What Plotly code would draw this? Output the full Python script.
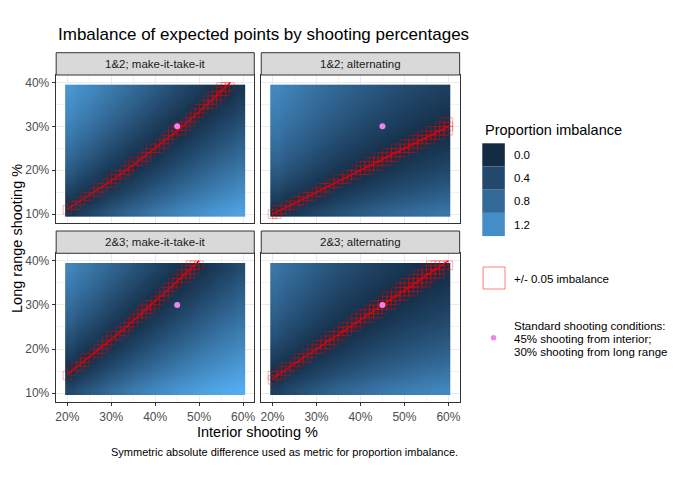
import plotly.graph_objects as go
from plotly.colors import sample_colorscale

# raster bins (shooting %, bin edges) for the imbalance surface
x_edges = [19.5, 22.5, 27.5, 32.5, 37.5, 42.5, 47.5, 52.5, 57.5, 60.5]
y_edges = [9.5, 12, 14.5, 17, 19.5, 22, 24.5, 27, 29.5, 32, 34.5, 37, 39.5]

# proportion imbalance, one row per long range bin (bottom to top)
imb_12_mitti = [
    [0.10, 0.32, 0.56, 0.76, 0.94, 1.09, 1.22, 1.34, 1.43],
    [0.14, 0.09, 0.34, 0.55, 0.74, 0.91, 1.06, 1.20, 1.30],
    [0.34, 0.12, 0.14, 0.36, 0.56, 0.75, 0.91, 1.06, 1.18],
    [0.51, 0.29, 0.04, 0.19, 0.40, 0.59, 0.77, 0.93, 1.05],
    [0.65, 0.44, 0.20, 0.03, 0.24, 0.44, 0.63, 0.80, 0.93],
    [0.78, 0.58, 0.34, 0.12, 0.10, 0.30, 0.49, 0.67, 0.82],
    [0.89, 0.70, 0.47, 0.25, 0.04, 0.17, 0.36, 0.55, 0.70],
    [0.99, 0.81, 0.59, 0.38, 0.17, 0.04, 0.24, 0.43, 0.59],
    [1.08, 0.91, 0.70, 0.49, 0.29, 0.08, 0.12, 0.32, 0.47],
    [1.16, 1.00, 0.80, 0.60, 0.40, 0.20, 0.00, 0.20, 0.36],
    [1.23, 1.08, 0.89, 0.70, 0.50, 0.31, 0.11, 0.09, 0.26],
    [1.29, 1.15, 0.97, 0.79, 0.60, 0.41, 0.21, 0.01, 0.15],
]
imb_12_alt = [
    [0.02, 0.15, 0.33, 0.48, 0.60, 0.71, 0.80, 0.88, 0.93],
    [0.23, 0.06, 0.12, 0.28, 0.41, 0.52, 0.61, 0.70, 0.76],
    [0.40, 0.23, 0.05, 0.11, 0.24, 0.35, 0.45, 0.54, 0.61],
    [0.54, 0.37, 0.20, 0.04, 0.09, 0.21, 0.31, 0.40, 0.47],
    [0.66, 0.50, 0.32, 0.17, 0.04, 0.08, 0.19, 0.28, 0.35],
    [0.76, 0.60, 0.43, 0.28, 0.15, 0.03, 0.07, 0.17, 0.24],
    [0.84, 0.69, 0.53, 0.38, 0.25, 0.13, 0.03, 0.07, 0.14],
    [0.92, 0.77, 0.61, 0.47, 0.34, 0.23, 0.12, 0.03, 0.04],
    [0.98, 0.84, 0.69, 0.55, 0.42, 0.31, 0.21, 0.11, 0.04],
    [1.04, 0.91, 0.76, 0.62, 0.50, 0.39, 0.28, 0.19, 0.12],
    [1.09, 0.96, 0.82, 0.69, 0.57, 0.46, 0.35, 0.26, 0.19],
    [1.14, 1.02, 0.87, 0.74, 0.63, 0.52, 0.42, 0.33, 0.26],
]
imb_23_mitti = [
    [0.38, 0.59, 0.81, 1.00, 1.15, 1.28, 1.39, 1.49, 1.55],
    [0.15, 0.37, 0.61, 0.81, 0.98, 1.13, 1.25, 1.37, 1.45],
    [0.05, 0.17, 0.42, 0.63, 0.82, 0.98, 1.12, 1.25, 1.35],
    [0.23, 0.00, 0.25, 0.47, 0.66, 0.84, 1.00, 1.14, 1.25],
    [0.39, 0.16, 0.09, 0.31, 0.52, 0.70, 0.87, 1.03, 1.14],
    [0.52, 0.31, 0.06, 0.17, 0.38, 0.57, 0.75, 0.92, 1.04],
    [0.65, 0.44, 0.19, 0.03, 0.25, 0.45, 0.63, 0.81, 0.94],
    [0.76, 0.56, 0.32, 0.09, 0.12, 0.32, 0.52, 0.70, 0.84],
    [0.86, 0.67, 0.43, 0.21, 0.00, 0.21, 0.40, 0.59, 0.73],
    [0.95, 0.77, 0.54, 0.33, 0.11, 0.09, 0.29, 0.48, 0.63],
    [1.03, 0.86, 0.64, 0.43, 0.22, 0.02, 0.18, 0.38, 0.53],
    [1.11, 0.94, 0.74, 0.53, 0.33, 0.13, 0.07, 0.27, 0.43],
]
imb_23_alt = [
    [0.26, 0.43, 0.60, 0.74, 0.85, 0.95, 1.03, 1.09, 1.14],
    [0.06, 0.23, 0.41, 0.55, 0.67, 0.78, 0.86, 0.94, 0.99],
    [0.12, 0.06, 0.24, 0.39, 0.51, 0.62, 0.72, 0.80, 0.86],
    [0.26, 0.09, 0.09, 0.24, 0.38, 0.49, 0.58, 0.67, 0.73],
    [0.39, 0.22, 0.04, 0.12, 0.25, 0.37, 0.47, 0.55, 0.62],
    [0.50, 0.33, 0.15, 0.00, 0.14, 0.25, 0.36, 0.45, 0.51],
    [0.59, 0.43, 0.25, 0.10, 0.04, 0.15, 0.26, 0.35, 0.42],
    [0.68, 0.52, 0.34, 0.19, 0.06, 0.06, 0.17, 0.26, 0.33],
    [0.75, 0.59, 0.42, 0.27, 0.14, 0.03, 0.08, 0.18, 0.25],
    [0.82, 0.66, 0.50, 0.35, 0.22, 0.10, 0.00, 0.10, 0.17],
    [0.87, 0.73, 0.57, 0.42, 0.29, 0.18, 0.07, 0.03, 0.10],
    [0.93, 0.79, 0.63, 0.48, 0.36, 0.24, 0.14, 0.04, 0.03],
]

# cells within +/- 0.05 imbalance: (interior %, lowest long %, highest long %)
tiles_12_mitti = [
    (20, 11, 11), (21, 12, 12), (22, 12, 12), (23, 13, 13), (24, 14, 14), (25, 14, 14),
    (26, 15, 15), (27, 15, 16), (28, 16, 16), (29, 17, 17), (30, 17, 18), (31, 18, 19),
    (32, 19, 19), (33, 19, 20), (34, 20, 21), (35, 21, 22), (36, 22, 22), (37, 22, 23),
    (38, 23, 24), (39, 24, 25), (40, 25, 25), (41, 25, 26), (42, 26, 27), (43, 27, 28),
    (44, 28, 29), (45, 29, 30), (46, 29, 30), (47, 30, 31), (48, 31, 32), (49, 32, 33),
    (50, 33, 34), (51, 34, 35), (52, 35, 36), (53, 35, 37), (54, 36, 38), (55, 37, 39),
    (56, 38, 39), (57, 39, 39),
]
tiles_12_alt = [
    (20, 10, 10), (21, 10, 11), (22, 11, 11), (23, 11, 12), (24, 12, 12), (25, 12, 13),
    (26, 13, 13), (27, 13, 14), (28, 14, 14), (29, 14, 15), (30, 15, 15), (31, 15, 16),
    (32, 16, 16), (33, 16, 17), (34, 17, 17), (35, 17, 18), (36, 18, 18), (37, 18, 19),
    (38, 19, 19), (39, 19, 20), (40, 20, 21), (41, 20, 21), (42, 20, 22), (43, 21, 22),
    (44, 21, 23), (45, 22, 23), (46, 22, 24), (47, 23, 24), (48, 23, 25), (49, 24, 25),
    (50, 24, 26), (51, 25, 26), (52, 25, 27), (53, 26, 27), (54, 26, 28), (55, 27, 28),
    (56, 27, 29), (57, 28, 29), (58, 28, 30), (59, 29, 31), (60, 29, 31),
]
tiles_23_mitti = [
    (20, 14, 14), (21, 15, 15), (22, 16, 16), (23, 16, 17), (24, 17, 18), (25, 18, 18),
    (26, 19, 19), (27, 19, 20), (28, 20, 21), (29, 21, 22), (30, 22, 23), (31, 23, 23),
    (32, 23, 24), (33, 24, 25), (34, 25, 26), (35, 26, 27), (36, 27, 28), (37, 28, 29),
    (38, 28, 30), (39, 29, 30), (40, 30, 31), (41, 31, 32), (42, 32, 33), (43, 33, 34),
    (44, 34, 35), (45, 35, 36), (46, 36, 37), (47, 36, 38), (48, 37, 39), (49, 38, 39),
    (50, 39, 39),
]
tiles_23_alt = [
    (20, 13, 14), (21, 14, 14), (22, 14, 15), (23, 15, 16), (24, 16, 16), (25, 16, 17),
    (26, 17, 18), (27, 18, 18), (28, 18, 19), (29, 19, 20), (30, 20, 21), (31, 20, 21),
    (32, 21, 22), (33, 21, 23), (34, 22, 23), (35, 23, 24), (36, 23, 25), (37, 24, 25),
    (38, 25, 26), (39, 25, 27), (40, 26, 28), (41, 27, 28), (42, 27, 29), (43, 28, 30),
    (44, 28, 30), (45, 29, 31), (46, 30, 32), (47, 30, 32), (48, 31, 33), (49, 32, 34),
    (50, 32, 35), (51, 33, 35), (52, 33, 36), (53, 34, 37), (54, 35, 37), (55, 35, 38),
    (56, 36, 39), (57, 37, 39), (58, 37, 39), (59, 38, 39), (60, 39, 39),
]

# balance line (zero imbalance)
line_x_12_mitti = [20, 25, 30, 35, 40, 45, 50, 55, 57.1]
line_y_12_mitti = [11.1, 14.3, 17.6, 21.2, 25.0, 29.0, 33.3, 37.9, 40.0]
line_x_12_alt = [20, 25, 30, 35, 40, 45, 50, 55, 60]
line_y_12_alt = [10.0, 12.5, 15.0, 17.5, 20.0, 22.5, 25.0, 27.5, 30.0]
line_x_23_mitti = [20, 25, 30, 35, 40, 45, 50]
line_y_23_mitti = [14.3, 18.2, 22.2, 26.4, 30.8, 35.3, 40.0]
line_x_23_alt = [20, 25, 30, 35, 40, 45, 50, 55, 60]
line_y_23_alt = [13.3, 16.7, 20.0, 23.3, 26.7, 30.0, 33.3, 36.7, 40.0]

# standard shooting conditions
std_interior = [45]
std_long = [30]

legend_values = [0.0, 0.4, 0.8, 1.2]
z_max = 1.6

FONT = "Liberation Sans, Arial, sans-serif"
# the page body keeps an 8px margin, so the figure is drawn 8px smaller
OFF = 8
W, H = 680 - OFF, 486 - OFF
scale = [[0, "rgb(19,43,67)"], [0.25, "rgb(34,73,108)"], [0.5, "rgb(51,106,152)"],
         [0.75, "rgb(68,141,198)"], [1, "rgb(86,177,247)"]]


def px(x):
    return (x - OFF) / W


def py(y):
    return 1 - (y - OFF) / H


# panel boxes in window pixels: (left, right, top, bottom)
panels = [
    ("1&2; make-it-take-it", imb_12_mitti, tiles_12_mitti, line_x_12_mitti, line_y_12_mitti, (55.3, 254, 75, 222.7)),
    ("1&2; alternating", imb_12_alt, tiles_12_alt, line_x_12_alt, line_y_12_alt, (261, 460, 75, 222.7)),
    ("2&3; make-it-take-it", imb_23_mitti, tiles_23_mitti, line_x_23_mitti, line_y_23_mitti, (55.3, 254, 253.3, 401.7)),
    ("2&3; alternating", imb_23_alt, tiles_23_alt, line_x_23_alt, line_y_23_alt, (261, 460, 253.3, 401.7)),
]

fig = go.Figure()
shapes = []
annotations = []
layout = {}

for i, (label, z, tiles, lx, ly, box) in enumerate(panels):
    n = "" if i == 0 else str(i + 1)
    xa, ya = "x" + n, "y" + n
    fig.add_trace(go.Heatmap(
        x=x_edges, y=y_edges, z=z, zmin=0, zmax=z_max, colorscale=scale,
        zsmooth="best", showscale=False, hoverinfo="skip", xaxis=xa, yaxis=ya))
    tx, ty = [], []
    for x, lo, hi in tiles:
        for y in range(lo, hi + 1):
            tx.append(x)
            ty.append(y)
    fig.add_trace(go.Scatter(
        x=tx, y=ty, mode="markers", xaxis=xa, yaxis=ya, showlegend=False,
        marker=dict(symbol="square-open", size=8.5, color="rgba(255,0,0,0.32)",
                    line=dict(width=1))))
    fig.add_trace(go.Scatter(
        x=lx, y=ly, mode="lines", xaxis=xa, yaxis=ya, showlegend=False,
        line=dict(color="#E60000", width=1.3)))
    fig.add_trace(go.Scatter(
        x=std_interior, y=std_long, mode="markers", xaxis=xa, yaxis=ya, showlegend=False,
        marker=dict(color="#EE82EE", size=6)))

    left, right, top, bottom = box
    bottom_row = i >= 2
    left_col = i % 2 == 0
    layout["xaxis" + n] = dict(
        domain=[px(left), px(right)], range=[17.45, 62.55], anchor=ya,
        tickvals=[20, 30, 40, 50, 60], ticktext=["20%", "30%", "40%", "50%", "60%"],
        showticklabels=bottom_row, ticks="outside" if bottom_row else "",
        ticklen=3.5, tickwidth=1, tickcolor="#333333",
        tickfont=dict(size=12, color="#4D4D4D", family=FONT),
        showline=True, mirror=True, linecolor="#333333", linewidth=1,
        showgrid=True, gridcolor="#EBEBEB", gridwidth=1, zeroline=False,
        minor=dict(tickvals=[25, 35, 45, 55], showgrid=True, gridcolor="#F2F2F2", gridwidth=0.6),
        fixedrange=True)
    layout["yaxis" + n] = dict(
        domain=[py(bottom), py(top)], range=[8.05, 41.7], anchor=xa,
        tickvals=[10, 20, 30, 40], ticktext=["10%", "20%", "30%", "40%"],
        showticklabels=left_col, ticks="outside" if left_col else "",
        ticklen=3.5, tickwidth=1, tickcolor="#333333",
        tickfont=dict(size=12, color="#4D4D4D", family=FONT),
        showline=True, mirror=True, linecolor="#333333", linewidth=1,
        showgrid=True, gridcolor="#EBEBEB", gridwidth=1, zeroline=False,
        minor=dict(tickvals=[15, 25, 35], showgrid=True, gridcolor="#F2F2F2", gridwidth=0.6),
        fixedrange=True)

    # facet strip
    strip_top = top - 22.3
    shapes.append(dict(type="rect", xref="paper", yref="paper",
                       x0=px(left), x1=px(right), y0=py(top), y1=py(strip_top),
                       fillcolor="#D9D9D9", line=dict(color="#333333", width=1)))
    annotations.append(dict(text=label, x=px((left + right) / 2), y=py((top + strip_top) / 2),
                            font=dict(size=11.5, color="#1A1A1A", family=FONT)))

# titles
annotations += [
    dict(text="Imbalance of expected points by shooting percentages", x=px(55), y=py(35),
         xanchor="left", font=dict(size=17, color="black")),
    dict(text="Long range shooting %", x=px(16), y=py(238), textangle=-90,
         font=dict(size=14.5, color="black")),
    dict(text="Interior shooting %", x=px(257.7), y=py(432), font=dict(size=14.5, color="black")),
    dict(text="Symmetric absolute difference used as metric for proportion imbalance.",
         x=px(460), y=py(452), xanchor="right", font=dict(size=11, color="black")),
    dict(text="Proportion imbalance", x=px(483), y=py(130), xanchor="left",
         font=dict(size=14.5, color="black")),
]

# manual legend: fill keys
key_colors = sample_colorscale(scale, [v / z_max for v in legend_values])
for k, (v, c) in enumerate(zip(legend_values, key_colors)):
    top = 143.3 + k * 23.2
    shapes.append(dict(type="rect", xref="paper", yref="paper",
                       x0=px(482.7), x1=px(505.3), y0=py(top + 23.2), y1=py(top),
                       fillcolor=c, line=dict(width=0)))
    annotations.append(dict(text=f"{v:.1f}", x=px(513), y=py(top + 11.6), xanchor="left",
                            font=dict(size=11.5, color="black")))

# tile key
shapes.append(dict(type="rect", xref="paper", yref="paper",
                   x0=px(483.5), x1=px(505.5), y0=py(289), y1=py(267),
                   fillcolor="rgba(0,0,0,0)", line=dict(color="rgba(255,0,0,0.5)", width=1)))
annotations.append(dict(text="+/- 0.05 imbalance", x=px(513), y=py(279), xanchor="left",
                        font=dict(size=11.5, color="black")))

# point key
shapes.append(dict(type="circle", xref="paper", yref="paper",
                   x0=px(491.3), x1=px(496.7), y0=py(340.5), y1=py(335.1),
                   fillcolor="#EE82EE", line=dict(width=0)))
for text, yy in [("Standard shooting conditions:", 326),
                 ("45% shooting from interior;", 339),
                 ("30% shooting from long range", 351.5)]:
    annotations.append(dict(text=text, x=px(513), y=py(yy), xanchor="left",
                            font=dict(size=11.5, color="black")))

for a in annotations:
    a.setdefault("xref", "paper")
    a.setdefault("yref", "paper")
    a.setdefault("showarrow", False)
    a.setdefault("xanchor", "center")
    a.setdefault("yanchor", "middle")

fig.update_layout(
    width=W, height=H, margin=dict(l=0, r=0, t=0, b=0),
    paper_bgcolor="white", plot_bgcolor="white",
    font=dict(family=FONT), showlegend=False,
    shapes=shapes, annotations=annotations, **layout)

fig.write_html("out.html")
